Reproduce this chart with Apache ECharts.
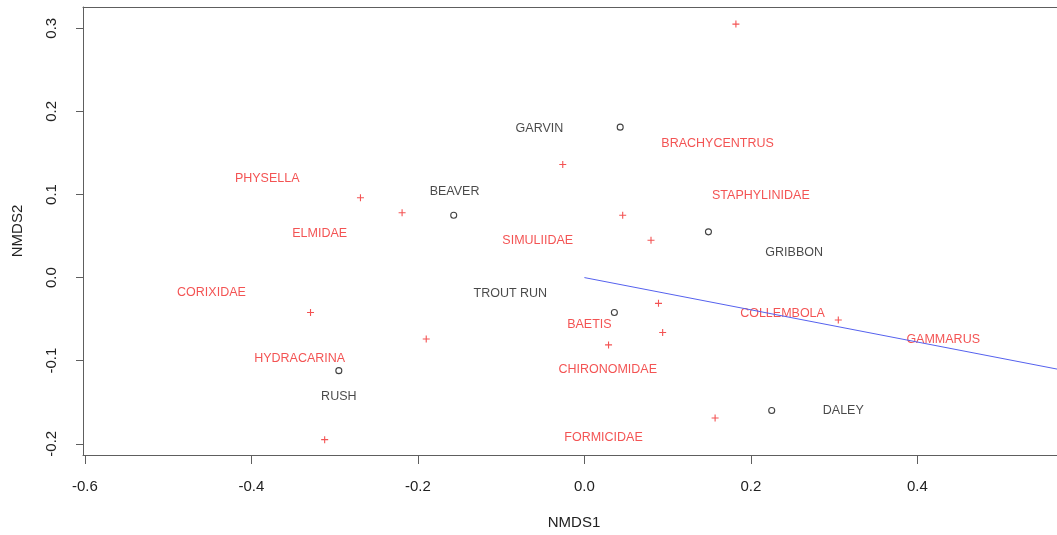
<!DOCTYPE html>
<html>
<head>
<meta charset="utf-8">
<script src="https://cdn.jsdelivr.net/npm/echarts@6/dist/echarts.min.js"></script>
<style>
  html, body { margin: 0; padding: 0; background: #fff; }
  #chart { width: 1057px; height: 535px; }
</style>
</head>
<body>
<div id="chart"></div>
<script>
// NMDS ordination: sites (open circles) and taxa (red crosses), with one fitted vector.

// Site scores
const siteNames = ['GARVIN', 'BEAVER', 'GRIBBON', 'TROUT RUN', 'DALEY', 'RUSH'];
const siteX = [0.043, -0.157, 0.149, 0.036, 0.225, -0.295];
const siteY = [0.181, 0.075, 0.055, -0.042, -0.160, -0.112];

// Site label anchor positions
const siteLabelX = [-0.054, -0.156, 0.252, -0.089, 0.311, -0.295];
const siteLabelY = [0.179, 0.104, 0.030, -0.019, -0.160, -0.143];

// Taxon scores
const taxonX = [0.182, -0.026, 0.046, 0.080, -0.219, -0.269, -0.329, -0.190, -0.312, 0.089, 0.094, 0.029, 0.305, 0.157];
const taxonY = [0.305, 0.136, 0.075, 0.045, 0.078, 0.096, -0.042, -0.074, -0.195, -0.031, -0.066, -0.081, -0.051, -0.169];

// Taxon label anchor positions
const taxonNames = ['PHYSELLA', 'ELMIDAE', 'CORIXIDAE', 'HYDRACARINA', 'SIMULIIDAE', 'BRACHYCENTRUS',
  'STAPHYLINIDAE', 'BAETIS', 'CHIRONOMIDAE', 'COLLEMBOLA', 'GAMMARUS', 'FORMICIDAE'];
const taxonLabelX = [-0.381, -0.318, -0.448, -0.342, -0.056, 0.160, 0.212, 0.006, 0.028, 0.238, 0.431, 0.023];
const taxonLabelY = [0.119, 0.053, -0.018, -0.098, 0.045, 0.161, 0.099, -0.056, -0.111, -0.043, -0.074, -0.193];

// Fitted environmental vector (origin to end point)
const vectorX = [0, 0.5677];
const vectorY = [0, -0.1101];

// Tick values
const xTicks = [-0.6, -0.4, -0.2, 0.0, 0.2, 0.4];
const yTicks = [-0.2, -0.1, 0.0, 0.1, 0.2, 0.3];

const FONT = "'Liberation Sans', Arial, Helvetica, sans-serif";
const AXIS_GREY = '#5e5e5e';
const RED = '#f02828';

const zip = (xs, ys) => xs.map((x, i) => [x, ys[i]]);
const fmt = v => v.toFixed(1);

const chart = echarts.init(document.getElementById('chart'), null, { renderer: 'canvas' });

const X_MIN = -0.6023, X_MAX = 0.5677;

chart.setOption({
  animation: false,
  backgroundColor: '#ffffff',
  grid: { left: 83, top: 7, right: 0, height: 448, containLabel: false },
  xAxis: [
    {
      type: 'value', position: 'bottom', min: X_MIN, max: X_MAX,
      axisLine: { show: true, onZero: false, lineStyle: { color: AXIS_GREY, width: 1 } },
      splitLine: { show: false },
      axisTick: { show: true, length: 9, inside: false, customValues: xTicks,
        lineStyle: { color: AXIS_GREY, width: 1 } },
      axisLabel: { show: true, customValues: xTicks, formatter: fmt, margin: 24,
        color: '#222', fontSize: 15, fontFamily: FONT }
    },
    {
      // top edge of the plot frame
      type: 'value', position: 'top', min: X_MIN, max: X_MAX,
      axisLine: { show: true, onZero: false, lineStyle: { color: AXIS_GREY, width: 1 } },
      axisTick: { show: false }, axisLabel: { show: false }, splitLine: { show: false }
    }
  ],
  yAxis: {
    type: 'value', min: -0.2135, max: 0.3256,
    axisLine: { show: true, onZero: false, lineStyle: { color: AXIS_GREY, width: 1 } },
    splitLine: { show: false },
    axisTick: { show: true, length: 7, inside: false, customValues: yTicks,
      lineStyle: { color: AXIS_GREY, width: 1 } },
    axisLabel: { show: true, customValues: yTicks, formatter: fmt, rotate: 90, margin: 24,
      color: '#222', fontSize: 15, fontFamily: FONT }
  },
  graphic: [
    { type: 'text', x: 574, y: 523,
      style: { text: 'NMDS1', font: '15px ' + FONT, fill: '#222', textAlign: 'center', textVerticalAlign: 'middle' } },
    { type: 'text', rotation: Math.PI / 2, x: 18, y: 231,
      style: { text: 'NMDS2', font: '15px ' + FONT, fill: '#222', textAlign: 'center', textVerticalAlign: 'middle' } }
  ],
  series: [
    {
      name: 'vector', type: 'line', data: zip(vectorX, vectorY),
      symbol: 'none', clip: true, silent: true,
      lineStyle: { color: '#5561ee', width: 1 }
    },
    {
      name: 'sites', type: 'scatter', data: zip(siteX, siteY),
      symbol: 'circle', symbolSize: 6, silent: true,
      itemStyle: { color: '#ffffff', borderColor: '#111', borderWidth: 1.1 }
    },
    {
      name: 'taxa', type: 'scatter', data: zip(taxonX, taxonY),
      symbol: 'path://M5,0L5,10M0,5L10,5', symbolSize: 7, silent: true,
      itemStyle: { color: 'none', borderColor: RED, borderWidth: 1.1 }
    },
    {
      name: 'site labels', type: 'scatter',
      data: siteNames.map((n, i) => ({ name: n, value: [siteLabelX[i], siteLabelY[i]] })),
      symbolSize: 0.1, silent: true, itemStyle: { color: 'transparent' },
      label: { show: true, position: 'inside', formatter: p => p.name,
        color: '#1a1a1a', fontSize: 12.5, fontFamily: FONT }
    },
    {
      name: 'taxon labels', type: 'scatter',
      data: taxonNames.map((n, i) => ({ name: n, value: [taxonLabelX[i], taxonLabelY[i]] })),
      symbolSize: 0.1, silent: true, itemStyle: { color: 'transparent' },
      label: { show: true, position: 'inside', formatter: p => p.name,
        color: RED, fontSize: 12.5, fontFamily: FONT }
    }
  ]
});
</script>
</body>
</html>
